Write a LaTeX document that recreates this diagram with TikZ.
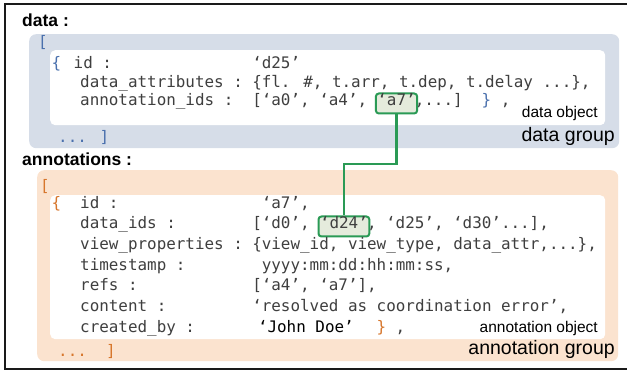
\documentclass[tikz,border=0pt]{standalone}
\usepackage{fontspec}
\setmainfont{Liberation Sans}
\newfontfamily\codefont{DejaVu Sans Mono}
\usetikzlibrary{calc}
\definecolor{bluefill}{HTML}{D6DDE8}
\definecolor{orangefill}{HTML}{FBE3CF}
\definecolor{bluetxt}{HTML}{4A70AD}
\definecolor{orangetxt}{HTML}{D7762C}
\definecolor{codegray}{HTML}{3F3F3F}
\definecolor{linkgreen}{HTML}{2A9A55}
\definecolor{linkfill}{HTML}{E5EBDC}
\definecolor{framecol}{HTML}{1A1A1A}
\begin{document}
\begin{tikzpicture}[x=1pt,y=-1pt,
  code/.style={inner sep=0pt, anchor=base west, font=\codefont\fontsize{15.9}{18}\selectfont, text=codegray},
  hl/.style={code, draw=linkgreen, fill=linkfill, line width=2pt, rounded corners=3pt, inner xsep=1.5pt, inner ysep=1.5pt, text height=11pt, text depth=6pt},
  grp/.style={anchor=north west, inner sep=0pt, rounded corners=7pt},
  obj/.style={anchor=north west, inner sep=0pt, rounded corners=5pt, fill=white},
  head/.style={anchor=base west, inner sep=0pt, font=\bfseries\fontsize{17.5}{20}\selectfont},
  lbl/.style={anchor=base east, inner sep=0pt, font=\fontsize{15.5}{18}\selectfont},
  glbl/.style={anchor=base east, inner sep=0pt, font=\fontsize{19.5}{22}\selectfont},
  link/.style={draw=linkgreen, line width=2.2pt},
  frame/.style={draw=framecol, line width=2.5pt}
]
\def\cw{9.56}
\useasboundingbox (0,0) rectangle (627,371);
% outer frame
\draw[frame] (627,4) -- (5,4) -- (5,369) -- (627,369);

% ---------- data ----------
\node[head] (hdata) at (22,27) {data :};
\node[grp, fill=bluefill, minimum width=590pt, minimum height=114pt] (dgrp) at (29,34) {};
\node[obj, minimum width=555pt, minimum height=75pt] (dobj) at (50,50) {};
\node[code, text=bluetxt] (dlbr) at (38,48) {[};
\node[code, text=bluetxt] (dlbrace) at ({80-3*\cw},69) {\{};
\node[code] (did) at (73.5,69) {id :};
\node[code] (didv) at ({80+18*\cw},69) {‘d25’};
\node[code] (dattr) at (80,87.5) {data\_attributes :};
\node[code] (dattrv) at ({80+18*\cw},87.5) {\{fl. \#, t.arr, t.dep, t.delay ...\},};
\node[code] (dann) at (80,106) {annotation\_ids :};
\node[code] (dannv) at ({80+18*\cw},106) {[‘a0’, ‘a4’,};
\node[hl] (a7) at ({80+31*\cw-1.5},106) {‘a7’};
\node[code] (dannv2) at ({80+35*\cw},106) {,...]};
\node[code, text=bluetxt] (drbrace) at ({80+42*\cw},106) {\}};
\node[code] (dcomma) at ({80+44*\cw},106) {,};
\node[lbl] (ldobj) at (598,118) {data object};
\node[glbl] (ldgrp) at (615,142) {data group};
\node[code, text=bluetxt] (dend) at (58,143) {... ]};

% ---------- annotations ----------
\node[head] (hann) at (22,166) {annotations :};
\node[grp, fill=orangefill, minimum width=581pt, minimum height=191pt] (agrp) at (37,170) {};
\node[obj, minimum width=555pt, minimum height=144pt] (aobj) at (50,195) {};
\node[code, text=orangetxt] (albr) at (40,192) {[};
\node[code, text=orangetxt] (albrace) at ({80-3*\cw},208.5) {\{};
\node[code] (aid) at (80,208.5) {id :};
\node[code] (aidv) at ({80+19*\cw},208.5) {‘a7’,};
\node[code] (adata) at (80,229) {data\_ids :};
\node[code] (adatav) at ({80+18*\cw},229) {[‘d0’,};
\node[hl] (d24) at ({80+25*\cw-1.5},229) {‘d24’};
\node[code] (adatav2) at ({80+30*\cw},229) {, ‘d25’, ‘d30’...],};
\node[code] (aview) at (80,249.5) {view\_properties :};
\node[code] (aviewv) at ({80+18*\cw},249.5) {\{view\_id, view\_type, data\_attr,...\},};
\node[code] (ats) at (80,270.5) {timestamp :};
\node[code] (atsv) at ({80+19*\cw},270.5) {yyyy:mm:dd:hh:mm:ss,};
\node[code] (arefs) at (80,291) {refs :};
\node[code] (arefsv) at ({80+18*\cw},291) {[‘a4’, ‘a7’],};
\node[code] (acont) at (80,312) {content :};
\node[code] (acontv) at ({80+18*\cw},312) {‘resolved as coordination error’,};
\node[code] (acby) at (80,333) {created\_by :};
\node[code, text=black] (acbyv) at ({80+18.6*\cw},333) {‘John Doe’};
\node[code, text=orangetxt] (arbrace) at ({80+31*\cw},333) {\}};
\node[code] (acomma) at ({80+33*\cw},333) {,};
\node[lbl] (laobj) at (598,333) {annotation object};
\node[glbl] (lagrp) at (615,355) {annotation group};
\node[code, text=orangetxt] (aend) at (58,357) {...\ \ ]};

% ---------- link ----------
\coordinate (bend) at (0,164);
\draw[link] (a7.south) -- (a7.south |- bend) -| (d24.north);
\end{tikzpicture}
\end{document}
